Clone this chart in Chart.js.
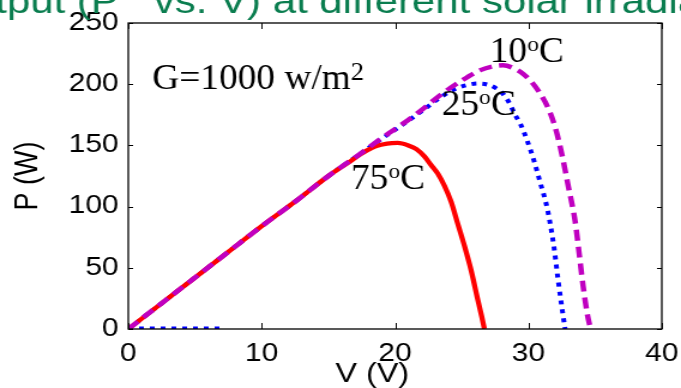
<!DOCTYPE html>
<html>
<head>
<meta charset="utf-8">
<script src="https://cdn.jsdelivr.net/npm/chart.js@4.4.1/dist/chart.umd.min.js"></script>
<style>
  html, body { margin: 0; padding: 0; background: #fff; overflow: hidden; }
  #chart { display: block; }
</style>
</head>
<body>
<!-- drawn narrow, shown wide: the plot is stretched sideways like the source figure -->
<canvas id="chart" width="568" height="388" style="width:681px;height:388px"></canvas>
<script>
// P-V curves, G = 1000 W/m2, three cell temperatures
const V_10 = [0, 2.5, 5, 7.5, 10, 12.5, 15, 17.5, 19, 20.5, 22, 23.5, 25, 26.4, 27.3, 28.1, 28.9, 29.6, 30.3, 30.9, 31.5, 32, 32.5, 33, 33.5, 33.8, 34.1, 34.4, 34.65];
const P_10 = [0, 21, 42, 63, 84, 104, 125, 144, 156, 167, 179, 192, 203, 211.5, 214.5, 215.5, 213, 208.5, 201, 192, 180, 165, 143, 116, 88, 62, 35, 13, 0];

const V_25 = [0, 2.5, 5, 7.5, 10, 12.5, 15, 17.5, 19, 20.5, 22, 23.5, 24.5, 25.3, 26.2, 27, 27.6, 28.1, 28.6, 29, 29.4, 29.9, 30.4, 30.9, 31.4, 31.9, 32.2, 32.5, 32.75];
const P_25 = [0, 21, 42, 63, 84, 104, 125, 144, 155.5, 166.5, 178, 190, 196, 199, 200.5, 199.5, 196.5, 192, 184, 175, 167.5, 154, 138, 119, 99, 68, 42, 18, 0];
// stray piece of the 25 C trace lying on the axis
const V_25B = [0, 7.2];
const P_25B = [0.5, 0.5];

const V_75 = [0, 2.5, 5, 7.5, 10, 12.5, 15, 16.5, 17.6, 18.6, 19.4, 20.2, 21, 21.6, 22.2, 22.7, 23.2, 23.7, 24.2, 24.7, 25.2, 25.7, 26.2, 26.5, 26.7];
const P_75 = [0, 21, 42, 63, 84, 104, 125, 136, 144, 149.5, 151.5, 152, 150, 147, 141, 134, 127, 117, 104, 86, 68, 48, 24, 10, 0];

const X_TICKS = [0, 10, 20, 30, 40];
const Y_TICKS = [0, 50, 100, 150, 200, 250];

// text written inside the axes, anchored at (V, P)
const NOTES = [
  { v: 1.8,  p: 196,   text: 'G=1000 w/m', sup: '2', supSize: 25, rise: 9,  after: '' },
  { v: 27.1, p: 217.8, text: '10',         sup: 'o', supSize: 22, rise: 11, after: 'C' },
  { v: 23.5, p: 174.7, text: '25',         sup: 'o', supSize: 22, rise: 11, after: 'C' },
  { v: 16.7, p: 114.7, text: '75',         sup: 'o', supSize: 22, rise: 11, after: 'C' }
];

const SANS = '"Liberation Sans", Arial, Helvetica, sans-serif';
const SERIF = '"Liberation Serif", "Times New Roman", serif';

const pts = (vs, ps) => vs.map((v, i) => ({ x: v, y: ps[i] }));

// serif label with a raised middle part; a bit condensed like the figure's font
function drawNote(ctx, x, y, n) {
  ctx.save();
  ctx.translate(x, y);
  ctx.scale(0.89, 1);
  ctx.font = '35px ' + SERIF;
  ctx.fillText(n.text, 0, 0);
  let cx = ctx.measureText(n.text).width;
  ctx.font = n.supSize + 'px ' + SERIF;
  ctx.fillText(n.sup, cx, -n.rise);
  cx += ctx.measureText(n.sup).width;
  ctx.font = '35px ' + SERIF;
  ctx.fillText(n.after, cx, 0);
  ctx.restore();
}

// matlab-like box with inward ticks, labels in the axes, x label and page heading
const frame = {
  id: 'frame',
  afterDatasetsDraw(chart) {
    const { ctx, chartArea: a, scales: { x, y } } = chart;
    ctx.save();
    ctx.strokeStyle = '#000';
    ctx.lineWidth = 1.3;
    ctx.strokeRect(a.left, a.top, a.right - a.left, a.bottom - a.top);

    ctx.lineWidth = 1;
    ctx.beginPath();
    X_TICKS.forEach(v => {
      const px = Math.round(x.getPixelForValue(v)) + 0.5;
      ctx.moveTo(px, a.bottom); ctx.lineTo(px, a.bottom - 6);
      ctx.moveTo(px, a.top); ctx.lineTo(px, a.top + 6);
    });
    Y_TICKS.forEach(v => {
      const py = Math.round(y.getPixelForValue(v)) + 0.5;
      ctx.moveTo(a.left, py); ctx.lineTo(a.left + 4, py);
      ctx.moveTo(a.right, py); ctx.lineTo(a.right - 4, py);
    });
    ctx.stroke();

    ctx.fillStyle = '#000';
    ctx.textAlign = 'left';
    ctx.textBaseline = 'alphabetic';
    NOTES.forEach(n => drawNote(ctx, x.getPixelForValue(n.v), y.getPixelForValue(n.p), n));

    // x axis label, sits a little left of centre
    ctx.font = '27px ' + SANS;
    ctx.textAlign = 'center';
    ctx.fillText('V (V)', (a.left + a.right) / 2 - 19, 382);

    // slide heading, runs off both edges
    ctx.font = '35px ' + SANS;
    ctx.fillStyle = '#0a7d4f';
    ctx.textAlign = 'left';
    const head = 'Output (P   vs. V) at different solar irradiance';
    ctx.fillText(head, -ctx.measureText('Ou').width - 4, 13);
    ctx.restore();
  }
};

new Chart(document.getElementById('chart'), {
  type: 'line',
  data: {
    datasets: [
      {
        label: '10oC',
        data: pts(V_10, P_10),
        borderColor: '#c000c0',
        borderWidth: 4.5,
        borderDash: [11, 6]
      },
      {
        label: '75oC',
        data: pts(V_75, P_75),
        borderColor: '#ff0000',
        borderWidth: 4.3
      },
      {
        label: '25oC',
        data: pts(V_25, P_25),
        borderColor: '#0000ff',
        borderWidth: 4,
        borderDash: [4, 5]
      },
      {
        label: '',
        data: pts(V_25B, P_25B),
        borderColor: '#0000ff',
        borderWidth: 4,
        borderDash: [4, 5]
      }
    ]
  },
  options: {
    responsive: false,
    devicePixelRatio: 1,
    animation: false,
    events: [],
    layout: { padding: { top: 23, right: 16, left: 0, bottom: 0 } },
    elements: {
      point: { radius: 0 },
      line: { fill: false, cubicInterpolationMode: 'monotone' }
    },
    plugins: {
      legend: { display: false },
      tooltip: { enabled: false }
    },
    scales: {
      x: {
        type: 'linear',
        min: 0,
        max: 40,
        afterBuildTicks: s => { s.ticks = X_TICKS.map(v => ({ value: v })); },
        afterFit: s => { s.height = 59; s.paddingLeft = 0; s.paddingRight = 0; },
        grid: { display: false, drawTicks: false },
        border: { display: false },
        ticks: { color: '#000', padding: 10, maxRotation: 0, font: { family: SANS, size: 25 } }
      },
      y: {
        min: 0,
        max: 250,
        afterBuildTicks: s => { s.ticks = Y_TICKS.map(v => ({ value: v })); },
        afterFit: s => { s.width = 107; s.paddingTop = 0; s.paddingBottom = 0; },
        grid: { display: false, drawTicks: false },
        border: { display: false },
        ticks: { color: '#000', padding: 8, font: { family: SANS, size: 25 } },
        title: {
          display: true,
          text: 'P (W)',
          color: '#000',
          padding: { top: 7, bottom: 0 },
          font: { family: SANS, size: 27 }
        }
      }
    }
  },
  plugins: [frame]
});
</script>
</body>
</html>
